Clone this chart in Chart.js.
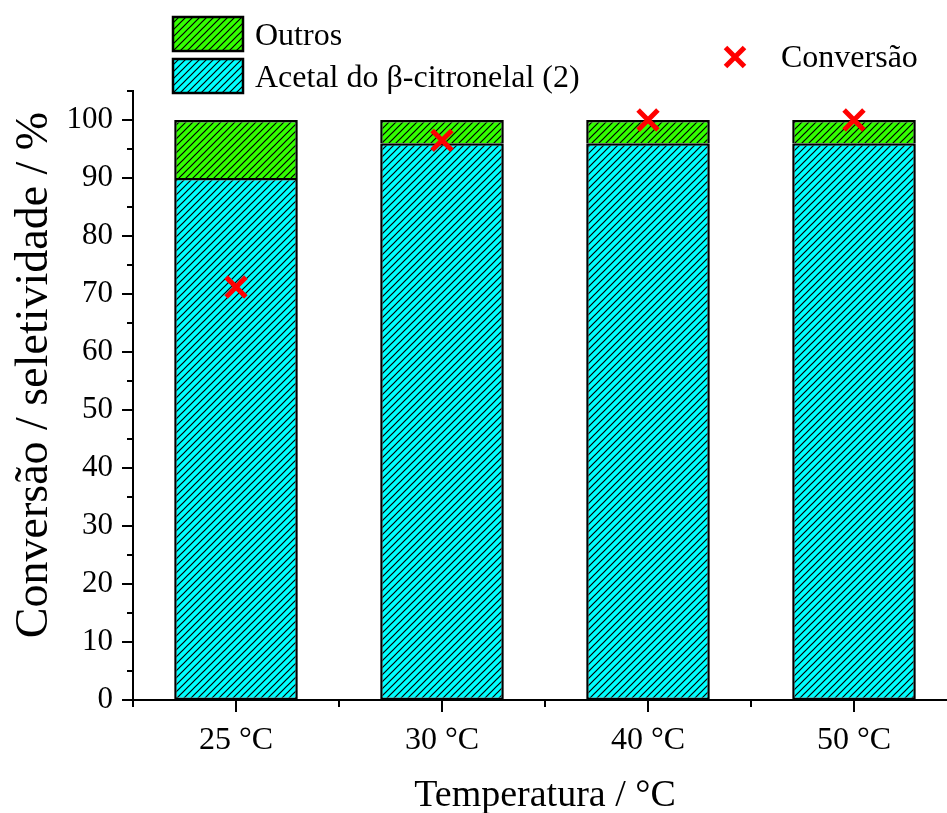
<!DOCTYPE html>
<html>
<head>
<meta charset="utf-8">
<title>Conversão / seletividade</title>
<script src="https://cdn.jsdelivr.net/npm/chart.js@4/dist/chart.umd.min.js"></script>
<style>
  html, body { margin: 0; padding: 0; background: #ffffff; overflow: hidden; width: 947px; height: 813px; }
  #wrap { width: 1000px; height: 813px; position: relative; }
  canvas { display: block; width: 1000px; height: 813px; }
</style>
</head>
<body>
<div id="wrap"><canvas id="chart" width="1000" height="813"></canvas></div>
<script>
// Temperature categories
const categories = ['25 °C', '30 °C', '40 °C', '50 °C'];
// Selectivity to the β-citronellal acetal (%)
const acetal = [90, 96, 96, 96];
// Other products (%)
const outros = [10, 4, 4, 4];
// Conversion (%)
const conversao = [71.2, 96.5, 100, 100];
// Y tick values
const yTicks = [0, 10, 20, 30, 40, 50, 60, 70, 80, 90, 100];
const yTitle = 'Conversão / seletividade / %';

const SERIF = "'Liberation Serif', 'Times New Roman', serif";
const CYAN = '#00ffff';
const GREEN = '#33ff00';
// the x axis runs on past the visible right edge
const PLOT_RIGHT = 957;

// Diagonal hatch fill
function hatch(color) {
  const s = 7;
  const c = document.createElement('canvas');
  c.width = s; c.height = s;
  const g = c.getContext('2d');
  g.fillStyle = color;
  g.fillRect(0, 0, s, s);
  g.strokeStyle = '#000000';
  g.lineWidth = 1.2;
  g.beginPath();
  g.moveTo(-1, s + 1); g.lineTo(s + 1, -1);
  g.moveTo(-1, 1); g.lineTo(1, -1);
  g.moveTo(s - 1, s + 1); g.lineTo(s + 1, s - 1);
  g.stroke();
  return g.createPattern(c, 'repeat');
}
const cyanHatch = hatch(CYAN);
const greenHatch = hatch(GREEN);

// Tick marks: major/minor on y, centres/boundaries on x; rotated y title
const axisDecor = {
  id: 'axisDecor',
  afterDraw(chart) {
    const ctx = chart.ctx;
    const x = chart.scales.x, y = chart.scales.y;
    const ca = chart.chartArea;
    ctx.save();
    ctx.strokeStyle = '#000';
    ctx.lineWidth = 2;
    ctx.beginPath();
    for (let v = 0; v <= 105; v += 5) {
      const py = Math.round(y.getPixelForValue(v));
      const len = v % 10 === 0 ? 11 : 6;
      ctx.moveTo(ca.left - len, py);
      ctx.lineTo(ca.left, py);
    }
    const n = categories.length;
    const step = (x.getPixelForValue(1) - x.getPixelForValue(0));
    for (let i = 0; i < n; i++) {
      const px = Math.round(x.getPixelForValue(i));
      ctx.moveTo(px, ca.bottom);
      ctx.lineTo(px, ca.bottom + 12);
    }
    for (let i = 0; i <= n; i++) {
      const px = Math.round(x.getPixelForValue(0) - step / 2 + i * step);
      ctx.moveTo(px, ca.bottom);
      ctx.lineTo(px, ca.bottom + 7);
    }
    ctx.stroke();

    ctx.translate(47, 375);
    ctx.rotate(-Math.PI / 2);
    ctx.font = '46px ' + SERIF;
    ctx.textAlign = 'center';
    ctx.textBaseline = 'alphabetic';
    ctx.fillStyle = '#000';
    ctx.fillText(yTitle, 0, 0);
    ctx.restore();
  }
};

// Legend: hatched swatches on the left, conversion marker on the right
const legendBoxes = {
  id: 'legendBoxes',
  afterDraw(chart) {
    const ctx = chart.ctx;
    const ds = chart.data.datasets;
    const rows = [
      { d: ds[2], top: 17 },
      { d: ds[1], top: 59 }
    ];
    ctx.save();
    ctx.font = '32px ' + SERIF;
    ctx.textBaseline = 'alphabetic';
    rows.forEach(r => {
      ctx.fillStyle = r.d.backgroundColor;
      ctx.fillRect(173, r.top, 70, 34);
      ctx.strokeStyle = '#000';
      ctx.lineWidth = 2.5;
      ctx.strokeRect(173, r.top, 70, 34);
      ctx.fillStyle = '#000';
      ctx.fillText(r.d.label, 255, r.top + 28);
    });
    const cx = 735, cy = 57, h = 9.5;
    ctx.strokeStyle = '#ff0000';
    ctx.lineWidth = 5;
    ctx.beginPath();
    ctx.moveTo(cx - h, cy - h); ctx.lineTo(cx + h, cy + h);
    ctx.moveTo(cx - h, cy + h); ctx.lineTo(cx + h, cy - h);
    ctx.stroke();
    ctx.fillStyle = '#000';
    ctx.fillText(ds[0].label, 781, 67);
    ctx.restore();
  }
};

const chart = new Chart(document.getElementById('chart'), {
  data: {
    labels: categories,
    datasets: [
      {
        type: 'line',
        label: 'Conversão',
        data: conversao,
        stack: 'conv',
        showLine: false,
        pointStyle: 'crossRot',
        pointRadius: 14,
        pointHoverRadius: 14,
        pointBorderWidth: 5,
        pointBorderColor: '#ff0000',
        borderColor: '#ff0000',
        backgroundColor: '#ff0000'
      },
      {
        type: 'bar',
        label: 'Acetal do β-citronelal (2)',
        data: acetal,
        stack: 'sel',
        backgroundColor: cyanHatch,
        borderColor: '#000000',
        borderWidth: { top: 2.5, left: 2.5, right: 2.5, bottom: 2.5 },
        borderSkipped: false,
        categoryPercentage: 1,
        barPercentage: 0.6
      },
      {
        type: 'bar',
        label: 'Outros',
        data: outros,
        stack: 'sel',
        backgroundColor: greenHatch,
        borderColor: '#000000',
        borderWidth: { top: 2.5, left: 2.5, right: 2.5, bottom: 0 },
        borderSkipped: false,
        categoryPercentage: 1,
        barPercentage: 0.6
      }
    ]
  },
  options: {
    responsive: false,
    animation: false,
    devicePixelRatio: 1,
    layout: { padding: { top: 91, left: 0, bottom: 0, right: 43 } },
    plugins: {
      legend: { display: false },
      tooltip: { enabled: false }
    },
    scales: {
      x: {
        stacked: true,
        offset: true,
        afterFit(s) { s.height = 113; },
        grid: { display: false, drawTicks: false },
        border: { display: true, color: '#000', width: 2 },
        ticks: {
          color: '#000',
          padding: 21,
          maxRotation: 0,
          font: { family: SERIF, size: 32 }
        },
        title: {
          display: true,
          text: 'Temperatura / °C',
          color: '#000',
          font: { family: SERIF, size: 38, lineHeight: 1 },
          padding: { top: 0, bottom: -2 }
        }
      },
      y: {
        stacked: true,
        min: 0,
        max: 105,
        afterFit(s) { s.width = 133; },
        afterBuildTicks(s) { s.ticks = yTicks.map(v => ({ value: v })); },
        grid: { display: false, drawTicks: false },
        border: { display: true, color: '#000', width: 2 },
        ticks: {
          color: '#000',
          padding: 20,
          font: { family: SERIF, size: 31 }
        },
        title: { display: false }
      }
    }
  },
  plugins: [axisDecor, legendBoxes]
});

// settle the plot's right edge where the axis should end
for (let k = 0; k < 3; k++) {
  const diff = chart.chartArea.right - PLOT_RIGHT;
  if (Math.abs(diff) < 0.5) break;
  chart.options.layout.padding.right = Math.max(0, chart.options.layout.padding.right + diff);
  chart.update();
}
</script>
</body>
</html>
